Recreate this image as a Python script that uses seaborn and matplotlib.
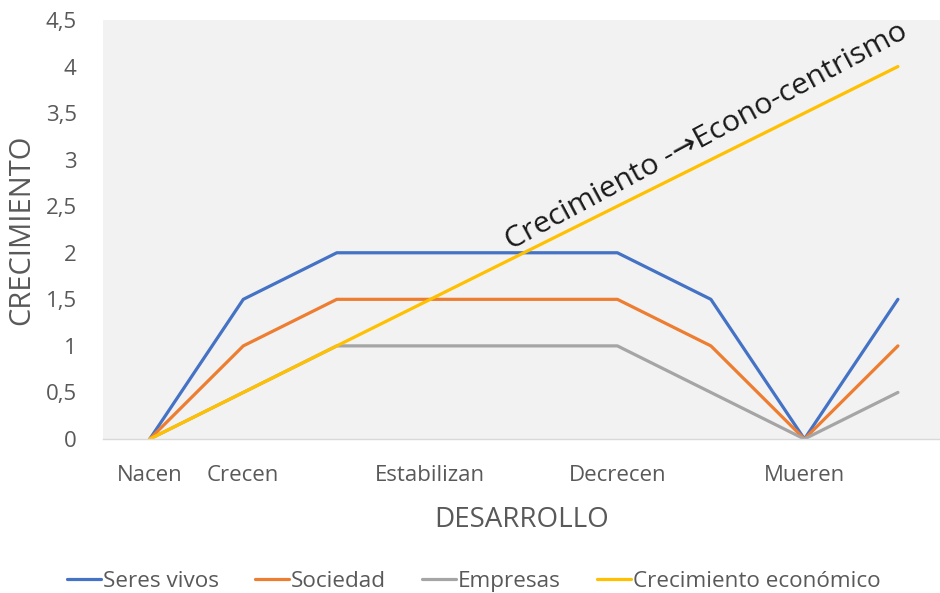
import numpy as np
import pandas as pd
import matplotlib
matplotlib.use("Agg")
import matplotlib.pyplot as plt
import seaborn as sns

# ── Datos ─────────────────────────────────────────────────────
ETAPAS = ["Nacen", "Crecen", "", "Estabilizan", "", "Decrecen", "", "Mueren", ""]
SERES_VIVOS = [0, 1.5, 2, 2, 2, 2, 1.5, 0, 1.5]
SOCIEDAD    = [0, 1, 1.5, 1.5, 1.5, 1.5, 1, 0, 1]
EMPRESAS    = [0, 0.5, 1, 1, 1, 1, 0.5, 0, 0.5]
CREC_ECON   = [0, 0.5, 1, 1.5, 2, 2.5, 3, 3.5, 4]
SERIES = ["Seres vivos", "Sociedad", "Empresas", "Crecimiento económico"]
Y_TICKS = [0, 0.5, 1, 1.5, 2, 2.5, 3, 3.5, 4, 4.5]

PALETTE = {
    "Seres vivos": "#4472C4",
    "Sociedad": "#ED7D31",
    "Empresas": "#A5A5A5",
    "Crecimiento económico": "#FFC000",
}
GRIS_TXT = "#595959"

rows = []
for name, vals in zip(SERIES, [SERES_VIVOS, SOCIEDAD, EMPRESAS, CREC_ECON]):
    for i, v in enumerate(vals):
        rows.append({"pos": i, "valor": v, "serie": name})
df = pd.DataFrame(rows)

# ── Estilo ────────────────────────────────────────────────────
sns.set_theme(style="white")
plt.rcParams["font.family"] = ["Open Sans", "DejaVu Sans"]

fig = plt.figure(figsize=(9.4, 5.93), dpi=100)
ax = fig.add_axes([0.1096, 0.2597, 0.8904, 0.7066])
ax.set_facecolor("#F2F2F2")

sns.lineplot(data=df, x="pos", y="valor", hue="serie", hue_order=SERIES,
             palette=PALETTE, linewidth=2.3, ax=ax, legend=True)

ax.set_xlim(-0.5, 8.45)
ax.set_ylim(0, 4.5)
ax.set_xticks(range(len(ETAPAS)))
ax.set_xticklabels(ETAPAS)
ax.set_xticks(range(1, len(ETAPAS)), minor=True)
ax.grid(False)
ax.grid(True, axis="x", which="minor", color="#D9D9D9", linewidth=1.0)
ax.set_axisbelow(True)
ax.set_yticks(Y_TICKS)
ax.set_yticklabels([f"{t:g}".replace(".", ",") for t in Y_TICKS])
ax.tick_params(axis="both", which="both", length=0, labelsize=16,
               labelcolor=GRIS_TXT)
ax.tick_params(axis="y", pad=19)
ax.tick_params(axis="x", pad=19)

for s in ["top", "right", "left"]:
    ax.spines[s].set_visible(False)
ax.spines["bottom"].set_color("#D9D9D9")
ax.spines["bottom"].set_linewidth(1.0)

ax.set_xlabel("DESARROLLO", fontsize=20, color=GRIS_TXT, labelpad=14)
ax.set_ylabel("CRECIMIENTO", fontsize=21, color=GRIS_TXT, labelpad=7)

ax.text(3.86, 2.03, "Crecimiento -→Econo-centrismo", rotation=28.2,
        rotation_mode="anchor", fontsize=21.8, color="#1a1a1a",
        ha="left", va="baseline")

handles, labels = ax.get_legend_handles_labels()
ax.get_legend().remove()
fig.legend(handles, labels, loc="center", bbox_to_anchor=(0.504, 0.019),
           ncol=4, frameon=False, fontsize=16.2, handlelength=1.5,
           handletextpad=0.1, columnspacing=1.6, labelcolor=GRIS_TXT)

fig.savefig("out.png", dpi=100, facecolor="white")
